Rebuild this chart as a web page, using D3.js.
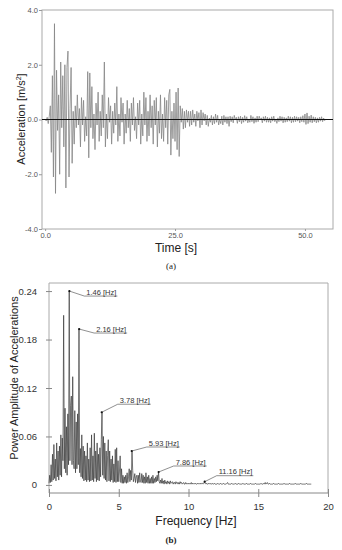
<!DOCTYPE html>
<html><head><meta charset="utf-8">
<script src="https://cdn.jsdelivr.net/npm/d3@7"></script>
<style>body{margin:0;background:#fff}svg{display:block}</style>
</head><body><svg id="c" width="342" height="550"></svg>
<script>
// ---------- DATA ----------
const timeStep = 0.2; // s
const accel = [
 0.02,-0.05,0.08,-0.15,0.12,
 0.5,-1.2,1.6,-2.1,3.5,
 -2.7,1.8,-0.4,0.9,-2.0,
 2.1,-0.3,1.6,-1.0,2.0,
 -2.5,1.9,2.5,-2.1,0.4,
 1.9,-1.6,0.3,-0.9,0.5,
 -0.3,0.9,-0.2,0.4,-1.0,
 0.8,-0.2,0.7,-0.8,0.1,
 -0.6,1.75,-1.4,1.7,-0.3,
 1.2,-0.7,0.2,-1.1,0.6,
 -0.2,1.0,-0.8,0.3,-0.6,
 0.9,-0.3,2.1,-1.0,0.2,
 -0.7,0.8,-0.1,0.5,-0.9,
 0.3,-0.5,0.6,-0.2,1.2,
 -0.8,0.2,-0.6,0.8,-0.1,
 0.6,-0.9,0.2,-0.5,0.7,
 -0.3,0.4,-0.8,0.6,-0.2,
 0.8,-0.4,0.1,-0.7,0.6,
 -0.2,0.7,-0.9,0.2,-0.6,
 1.0,-0.2,0.8,-0.8,0.3,
 -0.6,0.9,-0.3,0.5,-0.9,
 0.7,-0.2,0.8,-1.0,0.3,
 -0.5,0.9,-0.7,0.2,-0.8,
 0.8,-0.3,0.7,-0.9,0.9,
 1.1,-1.3,0.3,-0.7,0.6,
 -0.8,1.0,-1.1,1.15,-1.35,
 0.5,-0.1,0.4,-0.35,0.3,
 -0.3,0.35,-0.1,0.3,-0.25,
 0.3,-0.2,0.35,-0.1,0.2,
 -0.25,0.3,-0.05,0.25,-0.3,
 0.35,-0.2,0.25,-0.05,0.2,
 -0.2,0.15,-0.25,0.05,-0.1,
 0.15,-0.2,0.1,-0.15,0.2,
 -0.1,0.15,-0.2,0.02,-0.15,
 0.12,-0.2,0.15,-0.1,0.1,
 -0.15,0.1,-0.25,0.12,-0.08,
 0.10,-0.12,0.15,-0.02,0.08,
 -0.14,0.10,-0.08,0.12,-0.15,
 0.08,-0.10,0.14,-0.06,0.10,
 -0.12,0.02,-0.10,0.15,-0.08,
 0.10,-0.14,0.06,-0.10,0.12,
 -0.08,0.12,-0.02,0.06,-0.12,
 0.10,-0.06,0.12,-0.10,0.08,
 -0.10,0.06,-0.12,0.10,-0.06,
 0.12,-0.08,0.02,-0.14,0.06,
 -0.08,0.12,-0.06,0.10,-0.12,
 0.08,-0.10,0.06,-0.08,0.12,
 -0.06,0.10,-0.12,0.08,-0.10,
 0.12,-0.08,0.10,-0.06,0.08,
 -0.12,0.10,-0.08,0.14,-0.10,
 0.20,-0.18,0.24,-0.15,0.12,
 -0.10,0.16,-0.12,0.10,-0.08,
 0.08,-0.12,0.06,-0.10,0.08,
 -0.06,0.10,-0.08,0.05,-0.04,
 0.02
];
const accelTicks = [-4, -2, 0, 2, 4];
const timeTicks = [0, 25, 50];

const freqStep = 0.05; // Hz
const power = [
 0.002,0.012,0.003,0.025,0.004,0.038,0.006,0.050,0.008,0.032,0.005,0.052,0.010,0.042,0.006,0.048,0.012,0.062,0.010,0.058,
 0.030,0.210,0.020,0.095,0.015,0.072,0.012,0.088,0.025,0.240,0.030,0.098,0.110,0.025,0.134,0.030,0.020,0.092,0.015,0.078,
 0.020,0.088,0.025,0.193,0.015,0.045,0.010,0.062,0.008,0.048,0.005,0.042,0.006,0.036,0.004,0.052,0.006,0.032,0.004,0.046,
 0.005,0.062,0.006,0.036,0.004,0.064,0.008,0.042,0.004,0.052,0.006,0.038,0.005,0.046,0.010,0.056,0.090,0.012,0.060,0.008,
 0.052,0.006,0.042,0.004,0.036,0.056,0.005,0.042,0.004,0.032,0.006,0.036,0.003,0.026,0.004,0.044,0.003,0.046,0.004,0.030,
 0.004,0.016,0.036,0.003,0.020,0.002,0.012,0.002,0.010,0.003,0.012,0.002,0.015,0.003,0.010,0.020,0.004,0.018,0.006,0.042,
 0.018,0.004,0.008,0.014,0.003,0.010,0.012,0.002,0.012,0.003,0.015,0.004,0.003,0.014,0.003,0.012,0.002,0.010,0.002,0.015,
 0.003,0.010,0.002,0.012,0.002,0.008,0.002,0.010,0.002,0.012,0.002,0.008,0.003,0.010,0.004,0.012,0.005,0.016,0.004,0.002,
 0.006,0.002,0.008,0.002,0.005,0.001,0.006,0.002,0.004,0.001,0.005,0.002,0.004,0.001,0.005,0.002,0.003,0.004,0.001,0.003,
 0.003,0.001,0.004,0.002,0.003,0.001,0.003,0.001,0.004,0.002,0.003,0.001,0.002,0.003,0.001,0.001,0.003,0.001,0.002,0.001,
 0.002,0.001,0.002,0.001,0.003,0.001,0.002,0.001,0.002,0.001,0.002,0.001,0.001,0.002,0.001,0.002,0.001,0.002,0.001,0.002,
 0.002,0.001,0.002,0.004,0.002,0.001,0.002,0.001,0.001,0.002,0.001,0.002,0.001,0.001,0.002,0.001,0.001,0.002,0.001,0.001,
 0.001,0.001,0.002,0.001,0.001,0.001,0.002,0.001,0.001,0.001,0.002,0.001,0.001,0.001,0.001,0.002,0.003,0.001,0.001,0.001,
 0.001,0.001,0.002,0.001,0.001,0.001,0.001,0.002,0.001,0.001,0.001,0.001,0.002,0.001,0.001,0.001,0.001,0.001,0.002,0.001,
 0.001,0.001,0.001,0.002,0.001,0.001,0.001,0.001,0.001,0.002,0.001,0.001,0.001,0.001,0.001,0.001,0.002,0.001,0.001,0.001,
 0.001,0.001,0.001,0.001,0.002,0.001,0.001,0.001,0.002,0.001,0.003,0.001,0.002,0.003,0.001,0.001,0.002,0.001,0.001,0.001,
 0.001,0.001,0.002,0.001,0.001,0.001,0.001,0.001,0.001,0.002,0.001,0.001,0.001,0.001,0.001,0.001,0.001,0.002,0.001,0.001,
 0.001,0.001,0.001,0.001,0.001,0.002,0.001,0.001,0.001,0.001,0.001,0.001,0.001,0.002,0.001,0.001,0.001,0.001,0.001,0.001,
 0.001,0.002,0.001,0.001,0.001,0.001,0.001,0.001,0.001,0.002,0.001,0.001,0.001,0.001,0.001,0.001,0.001
];
const powerTicks = [0, 0.06, 0.12, 0.18, 0.24];
const freqTicks = [0, 5, 10, 15, 20];
const peakFreqs = [1.46, 2.16, 3.78, 5.93, 7.86, 11.16];
const peakAmps  = [0.240, 0.193, 0.090, 0.042, 0.016, 0.004];

// ---------- LAYOUT ----------
const svg = d3.select("#c");
const FONT = "Liberation Sans, Arial, sans-serif";
// label offsets (layout only) relative to each peak point
const labelOffsets = [[15,5],[15,4],[16,-8],[15,-4],[15,-6],[12,-6]];

// ===== Chart (a) =====
const xa = d3.scaleLinear().domain([-0.6, 55.4]).range([42, 333]);
const ya = d3.scaleLinear().domain([-4, 4]).range([229, 10]);

const ga = svg.append("g");
ga.append("rect").attr("x", 42).attr("y", 10).attr("width", 291).attr("height", 219)
  .attr("fill", "none").attr("stroke", "#aaa").attr("stroke-width", 1);

const lineA = d3.line().x((d, i) => xa(i * timeStep)).y(d => ya(d));
ga.append("path").datum(accel).attr("d", lineA)
  .attr("fill", "none").attr("stroke", "#858585").attr("stroke-width", 0.8);

ga.append("line").attr("x1", 42).attr("x2", 333).attr("y1", ya(0)).attr("y2", ya(0))
  .attr("stroke", "#111").attr("stroke-width", 1);

const fmt1 = d => d3.format(".1f")(d).replace("−", "-");
const axA_y = ga.append("g").attr("transform", "translate(42,0)")
  .call(d3.axisLeft(ya).tickValues(accelTicks).tickSize(3).tickPadding(1).tickFormat(fmt1));
const axA_x = ga.append("g").attr("transform", "translate(0,229)")
  .call(d3.axisBottom(xa).tickValues(timeTicks).tickSize(2).tickPadding(2).tickFormat(fmt1));
[axA_y, axA_x].forEach(a => {
  a.select(".domain").remove();
  a.selectAll("line").attr("stroke", "#999");
  a.selectAll("text").attr("font-family", FONT).attr("font-size", 7.5).attr("fill", "#555");
});

svg.append("text").attr("transform", "translate(25,119) rotate(-90)")
  .attr("text-anchor", "middle").attr("font-family", FONT).attr("font-size", 11).attr("fill", "#222")
  .html('Acceleration [m/s<tspan dy="-4" font-size="7">2</tspan><tspan dy="4">]</tspan>');
svg.append("text").attr("x", 176).attr("y", 252).attr("text-anchor", "middle")
  .attr("font-family", FONT).attr("font-size", 12).attr("fill", "#222").text("Time [s]");
svg.append("text").attr("x", 171).attr("y", 269).attr("text-anchor", "middle")
  .attr("font-family", "Liberation Serif, Times New Roman, serif").attr("font-size", 9).attr("fill", "#222").text("(a)");

// ===== Chart (b) =====
const xb = d3.scaleLinear().domain([0, 20]).range([49, 328]);
const yb = d3.scaleLinear().domain([-0.01, 0.25]).range([493, 283]);

const gb = svg.append("g");
gb.append("path").attr("d", `M49,493V283H328V493`).attr("fill", "none").attr("stroke", "#aaa").attr("stroke-width", 1);
gb.append("line").attr("x1", 49).attr("x2", 328).attr("y1", 493).attr("y2", 493).attr("stroke", "#888");

const lineB = d3.line().x((d, i) => xb(i * freqStep)).y(d => yb(d));
gb.append("path").datum(power).attr("d", lineB)
  .attr("fill", "none").attr("stroke", "#3a3a3a").attr("stroke-width", 0.7);

const fmtP = d => d === 0 ? "0" : d3.format(".2f")(d);
const axB_y = gb.append("g").attr("transform", "translate(49,0)")
  .call(d3.axisLeft(yb).tickValues(powerTicks).tickSizeInner(3).tickSizeOuter(0).tickPadding(9).tickFormat(fmtP));
axB_y.selectAll(".tick line").attr("x1", 3);
const axB_x = gb.append("g").attr("transform", "translate(0,493)")
  .call(d3.axisBottom(xb).tickValues(freqTicks).tickSizeInner(4).tickSizeOuter(0).tickPadding(6).tickFormat(d3.format("d")));
axB_x.selectAll(".tick line").attr("y1", -4);
[axB_y, axB_x].forEach(a => {
  a.select(".domain").remove();
  a.selectAll("line").attr("stroke", "#888");
  a.selectAll("text").attr("font-family", FONT).attr("font-size", 9.5).attr("fill", "#333");
});

svg.append("text").attr("transform", "translate(18,378) rotate(-90)")
  .attr("text-anchor", "middle").attr("font-family", FONT).attr("font-size", 11).attr("fill", "#222")
  .text("Power Amplitude of Accelerations");
svg.append("text").attr("x", 196).attr("y", 525).attr("text-anchor", "middle")
  .attr("font-family", FONT).attr("font-size", 12).attr("fill", "#222").text("Frequency [Hz]");
svg.append("text").attr("x", 171).attr("y", 543).attr("text-anchor", "middle")
  .attr("font-family", "Liberation Serif, Times New Roman, serif").attr("font-weight", "bold")
  .attr("font-size", 9).attr("fill", "#222").text("(b)");

// annotations
const ann = gb.append("g");
peakFreqs.forEach((f, i) => {
  const px = xb(f), py = yb(peakAmps[i]);
  const [dx, dy] = labelOffsets[i];
  const ux = px + dx, uy = py + dy;
  const t = ann.append("text").attr("x", ux + 2).attr("y", uy - 1.5)
    .attr("font-family", FONT).attr("font-size", 7.5).attr("fill", "#333")
    .text(f.toFixed(2) + " [Hz]");
  const w = t.node().getComputedTextLength();
  ann.append("line").attr("x1", px).attr("y1", py).attr("x2", ux).attr("y2", uy)
    .attr("stroke", "#444").attr("stroke-width", 0.6);
  ann.append("line").attr("x1", ux).attr("y1", uy).attr("x2", ux + w + 3).attr("y2", uy)
    .attr("stroke", "#444").attr("stroke-width", 0.6);
  ann.append("circle").attr("cx", px).attr("cy", py).attr("r", 1.1).attr("fill", "#111");
});
</script></body></html>
